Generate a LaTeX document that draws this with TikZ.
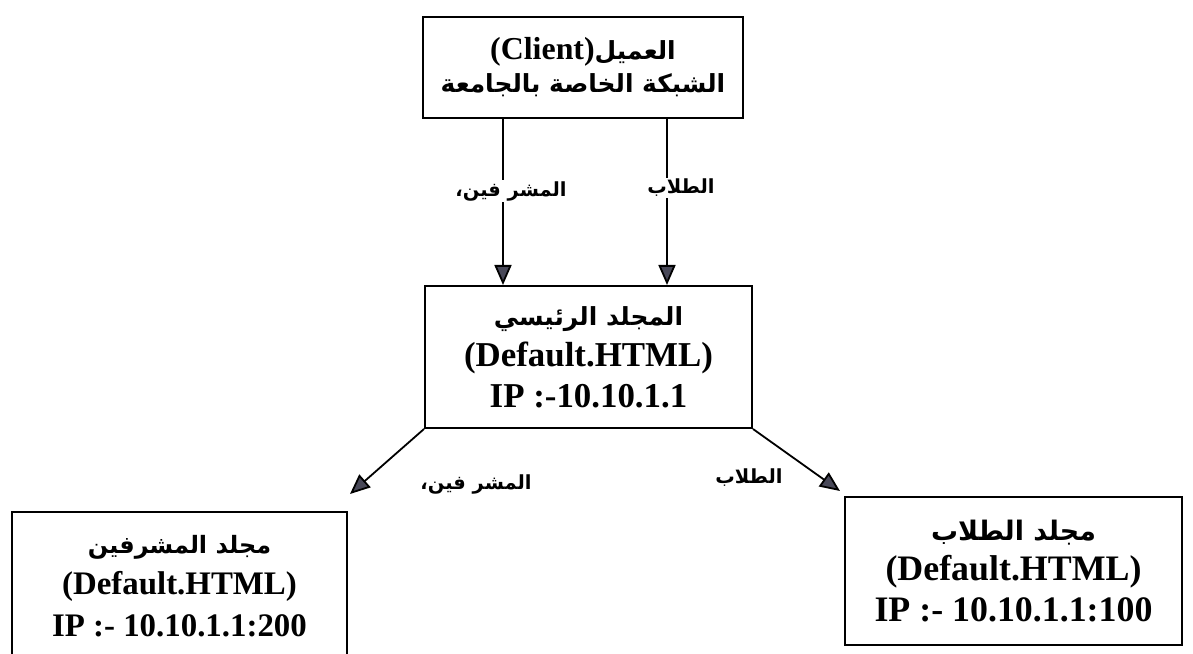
\documentclass[tikz,border=0pt]{standalone}
\usepackage{fontspec}
\setmainfont{Liberation Serif}
\newfontfamily\arabicfont[Script=Arabic]{DejaVu Sans}
\TeXXeTstate=1
\usetikzlibrary{arrows.meta}
\definecolor{tipgray}{RGB}{72,72,88}
\newcommand\arbtxt[1]{{\arabicfont\bfseries\beginR #1\endR}}
\begin{document}
\begin{tikzpicture}[x=1bp,y=-1bp,
  box/.style={draw, line width=2bp, inner sep=0pt, align=center, font=\bfseries},
  arr/.style={line width=1.8bp, -{Triangle[length=20bp,width=17bp,fill=tipgray]}},
  lbl/.style={inner sep=1pt, fill=white, font=\fontsize{19.5}{23}\selectfont}]
\clip (0,0) rectangle (1193,654);
\fill[white] (0,0) rectangle (1193,654);

\node[box, minimum width=320bp, minimum height=101bp,
      font=\bfseries\fontsize{25}{33}\selectfont] (client) at (583,67.5)
  {{\fontsize{32}{33}\selectfont (Client)}\arbtxt{العميل}\\ \arbtxt{الشبكة الخاصة بالجامعة}};

\coordinate (lx) at (503,0);
\coordinate (rx) at (667,0);
\coordinate (lt) at (350,494);
\coordinate (rt) at (840,491);

\node[box, minimum width=327bp, minimum height=142bp,
      font=\bfseries\fontsize{35}{41}\selectfont] (main) at (588.5,357)
  {{\fontsize{25}{41}\selectfont\arbtxt{المجلد الرئيسي}}\\ (Default.HTML)\\ IP :-10.10.1.1};

\node[box, minimum width=335bp, minimum height=148bp,
      font=\bfseries\fontsize{33}{42}\selectfont] (sup) at (179.5,586)
  {{\fontsize{24}{42}\selectfont\arbtxt{مجلد المشرفين}}\\ (Default.HTML)\\ IP :- 10.10.1.1:200};

\node[box, minimum width=337bp, minimum height=148bp,
      font=\bfseries\fontsize{36}{41}\selectfont] (stu) at (1013.5,571)
  {{\fontsize{27}{41}\selectfont\arbtxt{مجلد الطلاب}}\\ (Default.HTML)\\ IP :- 10.10.1.1:100};

\draw[arr] (client.south -| lx) -- (main.north -| lx);
\draw[arr] (client.south -| rx) -- (main.north -| rx);
\draw[arr] (main.south west) -- (lt);
\draw[arr] (main.south east) -- (rt);

\node[lbl] (l1) at (511,191) {\arbtxt{المشر فين،}};
\node[lbl] (l2) at (681,188) {\arbtxt{الطلاب}};
\node[lbl] (l3) at (476,484) {\arbtxt{المشر فين،}};
\node[lbl] (l4) at (749,478) {\arbtxt{الطلاب}};
\end{tikzpicture}
\end{document}
